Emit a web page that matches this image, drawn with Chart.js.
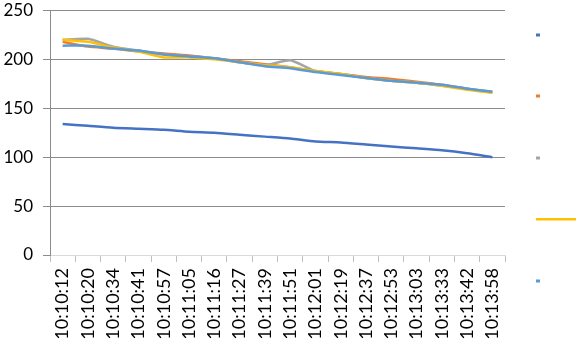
<!DOCTYPE html>
<html><head><meta charset="utf-8">
<script src="https://cdn.jsdelivr.net/npm/chart.js@4.4.0/dist/chart.umd.min.js"></script>
<style>html,body{margin:0;padding:0;background:#fff}#wrap{width:578px;height:342px;position:relative}</style>
</head><body><div id="wrap"><canvas id="c" width="578" height="342"></canvas></div>
<script>
const categories = ["10:10:12","10:10:20","10:10:34","10:10:41","10:10:57","10:11:05","10:11:16","10:11:27","10:11:39","10:11:51","10:12:01","10:12:19","10:12:37","10:12:53","10:13:03","10:13:33","10:13:42","10:13:58"];
const series1 = [134,132,130,129,128,126,125,123,121,119,116,115,113,111,109,107,104,100];
const series2 = [218,213,211,208,206,204,201,198,195,192,188,185,182,180,177,174,170,166];
const series3 = [220,221,213,209,205,203,201,197,194,199,188,185,181,178,176,173,170,167];
const series4 = [220,218,212,208,202,202,200,197,194,192,188,185,181,178,176,173,169,166];
const series5 = [214,214,211,209,205,203,201,197,193,191,187,184,181,178,176,174,170,167];
const yTicks = [0,50,100,150,200,250];
const colors = ["#4472C4","#ED7D31","#A5A5A5","#FFC000","#5B9BD5"];

const legendPlugin = {
  id: 'sideLegend',
  afterDraw(chart) {
    const ctx = chart.ctx;
    const ys = [35, 96, 158, 219, 281];
    ctx.save();
    chart.data.datasets.forEach((ds, i) => {
      ctx.fillStyle = ds.borderColor;
      if (i === 3) {
        ctx.fillRect(536, ys[i] - 1, 40, 2.5);
      } else {
        ctx.fillRect(536, ys[i] - 1.5, 4, 3);
      }
    });
    ctx.restore();
  }
};

const mk = (label, data, c, ord) => ({label, data, order: ord, borderColor: c, backgroundColor: c, borderWidth: 2.5, pointRadius: 0, tension: 0.2, fill: false});

new Chart(document.getElementById('c'), {
  type: 'line',
  data: {
    labels: categories,
    datasets: [
      mk('Series1', series1, colors[0], 5),
      mk('Series2', series2, colors[1], 4),
      mk('Series3', series3, colors[2], 3),
      mk('Series4', series4, colors[3], 2),
      mk('Series5', series5, colors[4], 1)
    ]
  },
  options: {
    responsive: false,
    animation: false,
    devicePixelRatio: 1,
    layout: {padding: {left: 0, right: 73, top: 0, bottom: 0}},
    plugins: {legend: {display: false}, tooltip: {enabled: false}},
    scales: {
      x: {
        offset: true,
        grid: {offset: true, drawOnChartArea: false, drawTicks: true, tickLength: 7, color: '#BFBFBF'},
        border: {color: '#D9D9D9', width: 1},
        ticks: {autoSkip: false, minRotation: 90, maxRotation: 90, padding: 6, color: '#000', font: {family: 'Lato', size: 18}},
        afterFit(s) { s.height = 87; }
      },
      y: {
        min: 0, max: 250,
        afterBuildTicks(s) { s.ticks = yTicks.map(v => ({value: v})); },
        grid: {color: '#8C8C8C', tickLength: 7, drawTicks: true},
        border: {color: '#8C8C8C', width: 1},
        ticks: {padding: 10, color: '#000', font: {family: 'Lato', size: 17, lineHeight: 0.05}},
        afterFit(s) { s.width = 50; }
      }
    }
  },
  plugins: [legendPlugin]
});
</script></body></html>
